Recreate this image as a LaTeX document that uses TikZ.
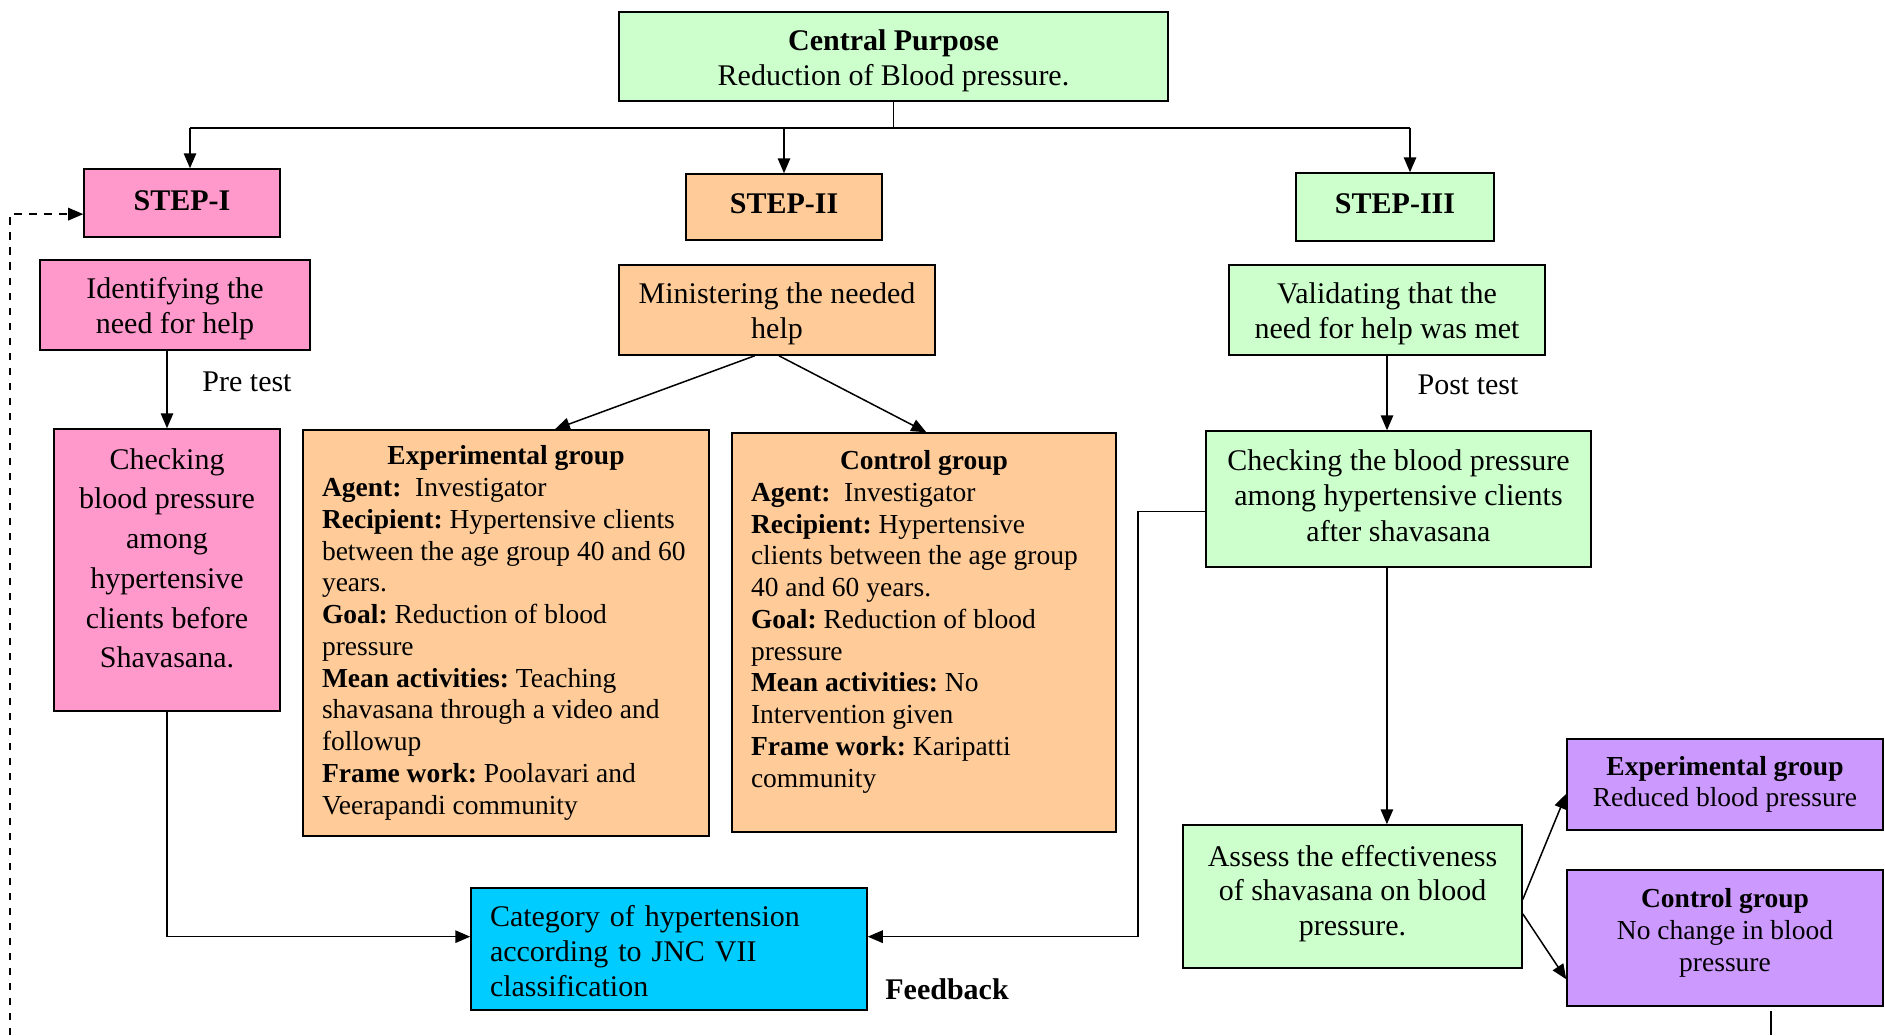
\documentclass[tikz,border=0pt]{standalone}
\usepackage{fontspec}
\setmainfont{Liberation Serif}
\usetikzlibrary{arrows.meta,calc}
\definecolor{lgreen}{HTML}{CCFFCC}
\definecolor{lpink}{HTML}{FF99CC}
\definecolor{lorange}{HTML}{FFCC99}
\definecolor{lcyan}{HTML}{00CCFF}
\definecolor{lpurple}{HTML}{CC99FF}
\newcommand{\bigf}{\fontsize{12}{13.8}\selectfont\frenchspacing}
\newcommand{\twof}{\fontsize{12}{14}\selectfont\frenchspacing}
\newcommand{\smallf}{\fontsize{11}{12.7}\selectfont\frenchspacing}
\newcommand{\up}[1]{\rule[-#1]{0pt}{#1}}
\newcommand{\dn}[1]{\rule{0pt}{#1}}
\tikzset{
  box/.style={draw=black, line width=0.6pt, inner sep=0pt, align=center, font=\bigf},
  tbox/.style={draw=black, line width=0.6pt, inner xsep=7.6pt, inner ysep=0pt, align=left},
  arr/.style={line width=0.6pt, -{Triangle[length=6pt,width=5pt]}},
  ln/.style={line width=0.6pt},
  lbl/.style={inner sep=0pt, font=\bigf}
}
\begin{document}
\begin{tikzpicture}[x=0.4pt,y=-0.4pt]
\useasboundingbox (0,0) rectangle (1885,1035);
% boxes
\node[box, fill=lgreen, minimum width=219.6pt, minimum height=35.6pt, font=\twof] (cp) at (893.5,56.5)
  {\dn{11.4pt}\textbf{Central Purpose}\\Reduction of Blood pressure.};
\node[box, fill=lpink, minimum width=78.4pt, minimum height=27.2pt] (s1) at (182,203)
  {\raisebox{2pt}{\textbf{STEP-I}}};
\node[box, fill=lorange, minimum width=78.4pt, minimum height=26.4pt] (s2) at (784,207)
  {\raisebox{3pt}{\textbf{STEP-II}}};
\node[box, fill=lgreen, minimum width=79.2pt, minimum height=27.2pt] (s3) at (1395,207)
  {\raisebox{3pt}{\textbf{STEP-III}}};
\node[box, fill=lpink, minimum width=108pt, minimum height=36pt, font=\twof] (idn) at (175,305)
  {\dn{11.4pt}Identifying the\\need for help};
\node[box, fill=lorange, minimum width=126.4pt, minimum height=36pt, font=\twof] (mini) at (777,310)
  {\dn{11.4pt}Ministering the needed\\help};
\node[box, fill=lgreen, minimum width=126.4pt, minimum height=36pt, font=\twof] (vali) at (1387,310)
  {\dn{11.4pt}Validating that the\\need for help was met};
\node[box, fill=lpink, minimum width=90.4pt, minimum height=112.8pt, font=\fontsize{12}{15.9}\selectfont] (chkb) at (167,570)
  {Checking\\blood pressure\\among\\hypertensive\\clients before\\Shavasana.\up{9.6pt}};
\node[tbox, fill=lorange, minimum width=162.4pt, minimum height=162.4pt, font=\smallf] (exp) at (506,633)
  {\makebox[147.2pt][c]{\textbf{Experimental group}}\\
   \textbf{Agent:}\ \ Investigator\\
   \textbf{Recipient:} Hypertensive clients\\
   between the age group 40 and 60\\
   years.\\
   \textbf{Goal:} Reduction of blood\\
   pressure\\
   \textbf{Mean activities:} Teaching\\
   shavasana through a video and\\
   followup\\
   \textbf{Frame work:} Poolavari and\\
   Veerapandi community};
\node[tbox, fill=lorange, minimum width=153.6pt, minimum height=159.6pt, font=\smallf] (ctl) at (924,632.5)
  {\makebox[138.4pt][c]{\textbf{Control group}}\\
   \textbf{Agent:}\ \ Investigator\\
   \textbf{Recipient:} Hypertensive\\
   clients between the age group\\
   40 and 60 years.\\
   \textbf{Goal:} Reduction of blood\\
   pressure\\
   \textbf{Mean activities:} No\\
   Intervention given\\
   \textbf{Frame work:} Karipatti\\
   community\up{11pt}};
\node[box, fill=lgreen, minimum width=154pt, minimum height=54.4pt, font=\fontsize{12}{14.2}\selectfont] (chka) at (1398.5,499)
  {Checking the blood pressure\\among hypertensive clients\\after shavasana\up{2.9pt}};
\node[box, fill=lgreen, minimum width=135.6pt, minimum height=57.2pt] (ass) at (1352.5,896.5)
  {Assess the effectiveness\\of shavasana on blood\\pressure.\up{5pt}};
\node[box, fill=lpurple, minimum width=126.4pt, minimum height=36.4pt, font=\fontsize{11}{12.4}\selectfont] (p1) at (1725,784.5)
  {\textbf{Experimental group}\\Reduced blood pressure};
\node[box, fill=lpurple, minimum width=126.4pt, minimum height=54.4pt, font=\fontsize{11}{12.8}\selectfont] (p2) at (1725,938)
  {\textbf{Control group}\\No change in blood\\pressure\up{6.2pt}};
\node[tbox, fill=lcyan, text width=143.2pt, minimum height=48.8pt, font=\fontsize{12}{14}\selectfont] (cat) at (669,949)
  {\dn{10.2pt}Category of hypertension\\according to JNC VII\\classification};
% labels
\node[lbl] (pre) at (247,382) {Pre test};
\node[lbl] (post) at (1468,385) {Post test};
\node[lbl, font=\bigf\bfseries] (fb) at (947,989) {Feedback};
% bus
\coordinate (busL) at (190,128);
\coordinate (busR) at (1410,128);
\draw[ln] (cp.south) -- (cp.south |- busL);
\draw[ln] (busL) -- (busR);
\draw[arr] (busL) -- (busL |- s1.north);
\draw[arr] (s2.north |- busL) -- (s2.north);
\draw[arr] (busR) -- (busR |- s3.north);
% step I
\draw[arr] (chkb.north |- idn.south) -- (chkb.north);
\coordinate (catL) at ($(cat.north west)!0.4!(cat.south west)$);
\coordinate (catR) at ($(cat.north east)!0.4!(cat.south east)$);
\draw[arr] (chkb.south) -- (chkb.south |- catL) -- (catL);
% step II
\draw[arr] ($(mini.south west)!0.43!(mini.south east)$) -- ($(exp.north west)!0.62!(exp.north east)$);
\draw[arr] ($(mini.south west)!0.506!(mini.south east)$) -- ($(ctl.north west)!0.506!(ctl.north east)$);
% step III
\draw[arr] (vali.south) -- (vali.south |- chka.north);
\coordinate (chkaB) at ($(chka.south west)!0.47!(chka.south east)$);
\draw[arr] (chkaB) -- (chkaB |- ass.north);
\draw[arr] ($(ass.north east)!0.52!(ass.south east)$) -- ($(p1.north west)!0.6!(p1.south west)$);
\draw[arr] ($(ass.north east)!0.62!(ass.south east)$) -- ($(p2.north west)!0.8!(p2.south west)$);
% feedback
\coordinate (chkaL) at ($(chka.north west)!0.59!(chka.south west)$);
\coordinate (fbx) at (1138,0);
\draw[arr] (chkaL) -- (chkaL -| fbx) -- (fbx |- catR) -- (catR);
% dashed loop
\coordinate (dbot) at (10,1035);
\coordinate (s1w) at ($(s1.north west)!0.66!(s1.south west)$);
\draw[arr, dashed] (dbot) -- (dbot |- s1w) -- (s1w);
% stub below control result
\coordinate (stubT) at (1771,1011);
\coordinate (stubB) at (1771,1035);
\draw[ln] (stubT) -- (stubB);
\end{tikzpicture}
\end{document}
